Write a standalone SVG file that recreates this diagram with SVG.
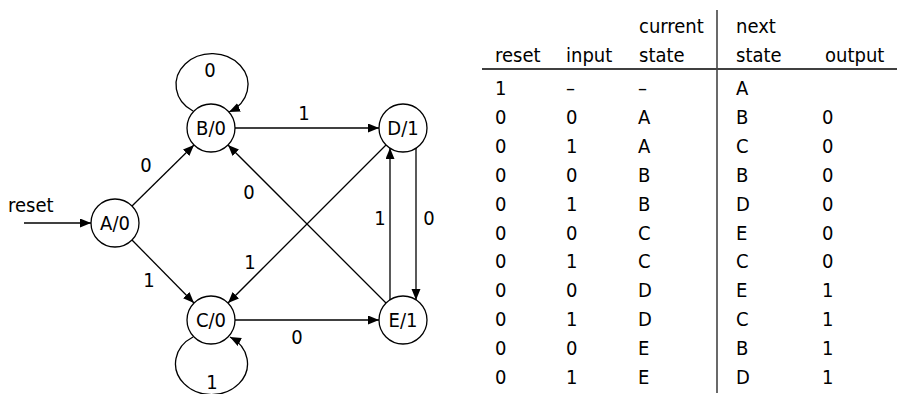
<svg xmlns="http://www.w3.org/2000/svg" width="897" height="394" viewBox="0 0 897 394">
  <style>
    text { font-family: "DejaVu Sans Condensed", "DejaVu Sans", Verdana, sans-serif; font-stretch: condensed; font-size: 20px; fill: #000; }
    .mid { text-anchor: middle; }
    .state { fill: #fff; stroke: #000; stroke-width: 1.3; }
    .edge { fill: none; stroke: #000; stroke-width: 1.3; marker-end: url(#arrow); }
    .rule { stroke: #000; stroke-width: 1.3; }
    .divider { stroke: #444; stroke-width: 1.6; }
  </style>
  <defs>
    <marker id="arrow" markerUnits="userSpaceOnUse" markerWidth="12" markerHeight="10" refX="11" refY="4.5" orient="auto">
      <path d="M0,0 L11,4.5 L0,9 z" fill="#000"/>
    </marker>
  </defs>
  <rect width="897" height="394" fill="#fff"/>

  <!-- transitions -->
  <g id="connectors">
    <line class="edge" x1="24" y1="223" x2="91" y2="223"/>
    <line class="edge" x1="132" y1="206" x2="194" y2="145"/>
    <line class="edge" x1="132" y1="240" x2="194" y2="303"/>
    <line class="edge" x1="235" y1="128" x2="379" y2="128"/>
    <line class="edge" x1="235" y1="320" x2="379" y2="320"/>
    <line class="edge" x1="386" y1="303" x2="228" y2="145"/>
    <line class="edge" x1="386" y1="145" x2="228" y2="303"/>
    <line class="edge" x1="416" y1="148" x2="416" y2="300"/>
    <line class="edge" x1="390" y1="300" x2="390" y2="148"/>
    <path class="edge" d="M193,111 A36 31 0 1 1 229,112"/>
    <path class="edge" d="M193,337 A36 31 0 1 0 230,337"/>
    <text x="8" y="212">reset</text>
    <text class="mid" x="146" y="172">0</text>
    <text class="mid" x="149" y="287">1</text>
    <text class="mid" x="304" y="120">1</text>
    <text class="mid" x="297" y="344">0</text>
    <text class="mid" x="249" y="199">0</text>
    <text class="mid" x="250" y="269">1</text>
    <text class="mid" x="429" y="225">0</text>
    <text class="mid" x="380" y="225">1</text>
    <text class="mid" x="210" y="77">0</text>
    <text class="mid" x="212" y="389">1</text>
  </g>

  <!-- states -->
  <g id="A">
    <circle class="state" cx="115" cy="223" r="24"/>
    <text class="mid" x="115" y="230">A/0</text>
  </g>
  <g id="B">
    <circle class="state" cx="211" cy="128" r="24"/>
    <text class="mid" x="211" y="135">B/0</text>
  </g>
  <g id="C">
    <circle class="state" cx="211" cy="320" r="24"/>
    <text class="mid" x="211" y="327">C/0</text>
  </g>
  <g id="D">
    <circle class="state" cx="403" cy="128" r="24"/>
    <text class="mid" x="403" y="135">D/1</text>
  </g>
  <g id="E">
    <circle class="state" cx="403" cy="320" r="24"/>
    <text class="mid" x="403" y="327">E/1</text>
  </g>

  <!-- state table -->
  <g id="table">
    <line class="rule" x1="482" y1="69" x2="897" y2="69"/>
    <line class="divider" x1="717" y1="10" x2="717" y2="393"/>
    <text x="639" y="33">current</text>
    <text x="736" y="33">next</text>
    <text x="495" y="62">reset</text>
    <text x="566" y="62">input</text>
    <text x="639" y="62">state</text>
    <text x="736" y="62">state</text>
    <text x="825" y="62">output</text>

    <g transform="translate(0,95)">
      <text x="495" y="0">1</text><text x="566" y="0">–</text><text x="638" y="0">–</text><text x="736" y="0">A</text>
    </g>
    <g transform="translate(0,123.9)">
      <text x="495" y="0">0</text><text x="566" y="0">0</text><text x="638" y="0">A</text><text x="736" y="0">B</text><text x="822" y="0">0</text>
    </g>
    <g transform="translate(0,152.8)">
      <text x="495" y="0">0</text><text x="566" y="0">1</text><text x="638" y="0">A</text><text x="736" y="0">C</text><text x="822" y="0">0</text>
    </g>
    <g transform="translate(0,181.7)">
      <text x="495" y="0">0</text><text x="566" y="0">0</text><text x="638" y="0">B</text><text x="736" y="0">B</text><text x="822" y="0">0</text>
    </g>
    <g transform="translate(0,210.6)">
      <text x="495" y="0">0</text><text x="566" y="0">1</text><text x="638" y="0">B</text><text x="736" y="0">D</text><text x="822" y="0">0</text>
    </g>
    <g transform="translate(0,239.5)">
      <text x="495" y="0">0</text><text x="566" y="0">0</text><text x="638" y="0">C</text><text x="736" y="0">E</text><text x="822" y="0">0</text>
    </g>
    <g transform="translate(0,268.4)">
      <text x="495" y="0">0</text><text x="566" y="0">1</text><text x="638" y="0">C</text><text x="736" y="0">C</text><text x="822" y="0">0</text>
    </g>
    <g transform="translate(0,297.3)">
      <text x="495" y="0">0</text><text x="566" y="0">0</text><text x="638" y="0">D</text><text x="736" y="0">E</text><text x="822" y="0">1</text>
    </g>
    <g transform="translate(0,326.2)">
      <text x="495" y="0">0</text><text x="566" y="0">1</text><text x="638" y="0">D</text><text x="736" y="0">C</text><text x="822" y="0">1</text>
    </g>
    <g transform="translate(0,355.1)">
      <text x="495" y="0">0</text><text x="566" y="0">0</text><text x="638" y="0">E</text><text x="736" y="0">B</text><text x="822" y="0">1</text>
    </g>
    <g transform="translate(0,384)">
      <text x="495" y="0">0</text><text x="566" y="0">1</text><text x="638" y="0">E</text><text x="736" y="0">D</text><text x="822" y="0">1</text>
    </g>
  </g>
</svg>
